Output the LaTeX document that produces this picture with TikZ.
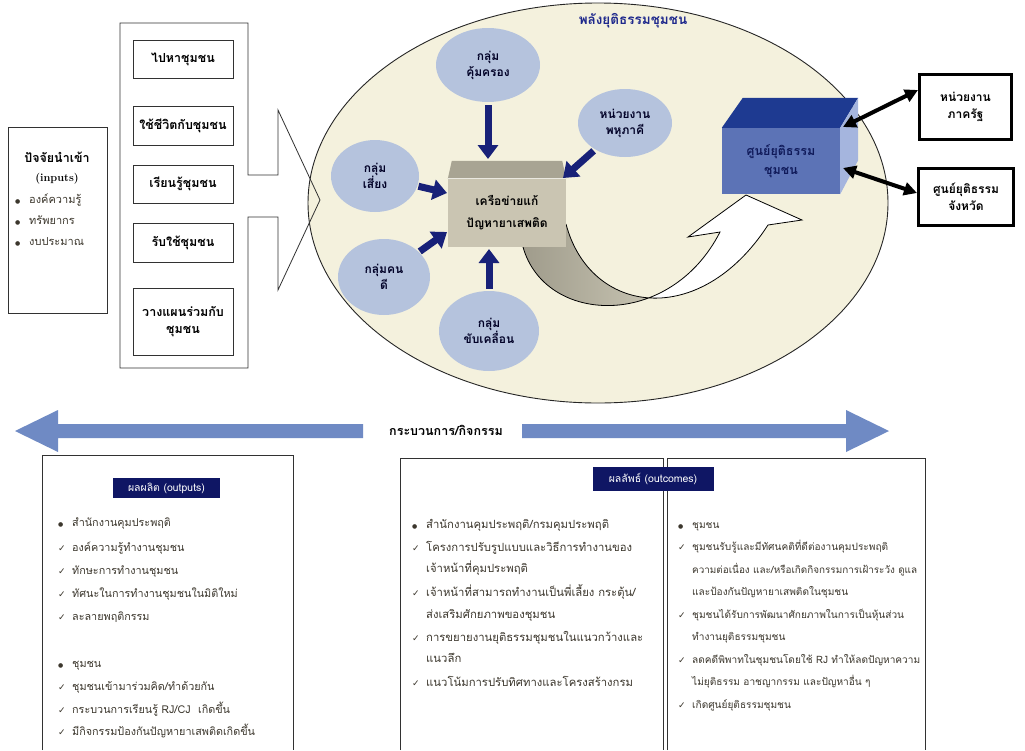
\documentclass[tikz,border=0pt]{standalone}
\usepackage{fontspec}
\newfontfamily\thai[Script=Thai]{Loma}
\newfontfamily\symf{DejaVu Sans}
\usetikzlibrary{arrows.meta,shapes.geometric}
\definecolor{cream}{RGB}{244,241,221}
\definecolor{grpblue}{RGB}{181,195,221}
\definecolor{navyarrow}{RGB}{24,33,120}
\definecolor{titleblue}{RGB}{30,40,140}
\definecolor{netfront}{RGB}{202,197,178}
\definecolor{nettop}{RGB}{168,164,147}
\definecolor{cjcfront}{RGB}{92,115,182}
\definecolor{cjctop}{RGB}{30,58,145}
\definecolor{cjcside}{RGB}{165,181,222}
\definecolor{cjctext}{RGB}{16,26,90}
\definecolor{steel}{RGB}{111,138,196}
\definecolor{hdrnavy}{RGB}{15,22,100}
\definecolor{bodytext}{RGB}{60,55,45}
\definecolor{linegray}{RGB}{50,50,50}
\newcommand\mybul{\makebox[14pt][l]{\symf\fontsize{6}{6}\selectfont ●}}
\newcommand\mychk{\makebox[14pt][l]{\symf\bfseries\fontsize{9}{9}\selectfont ✓}}
\newcommand\myind{\hspace*{14pt}}
\begin{document}
\begin{tikzpicture}[x=1pt,y=-1pt,
  outl/.style={draw=linegray, line width=0.8pt},
  actbox/.style={draw=linegray, line width=0.8pt, minimum width=100pt, inner sep=0, align=center, font=\thai\bfseries\fontsize{12.5}{17}\selectfont},
  grp/.style={ellipse, fill=grpblue, inner sep=0, align=center, font=\thai\bfseries\fontsize{12}{16}\selectfont, text=black!85!blue},
  nav/.style={draw=navyarrow, line width=7pt, -{Triangle[width=20pt,length=14pt]}},
  dbl/.style={draw=black, line width=4pt, {Triangle[width=13pt,length=13pt]}-{Triangle[width=13pt,length=13pt]}},
  rbox/.style={draw=black, line width=3pt, fill=white, inner sep=0, align=center, font=\thai\bfseries\fontsize{12}{17}\selectfont},
  hdr/.style={fill=hdrnavy, text=white, inner sep=0, font=\thai\fontsize{10.5}{12}\selectfont},
  itm/.style={anchor=base west, inner sep=0, font=\thai\fontsize{10.8}{12}\selectfont, text=bodytext},
  itmL/.style={itm, font=\thai\fontsize{11.3}{12}\selectfont},
  itmR/.style={itm, font=\thai\fontsize{10.1}{12}\selectfont},
  hd/.style={inner sep=0, font=\thai\bfseries\fontsize{12}{14}\selectfont}
]
\useasboundingbox (0,0) rectangle (1025,750);
\fill[white] (0,0) rectangle (1025,750);

% big field ellipse
\node[ellipse, draw=black!85, line width=0.9pt, fill=cream, minimum width=580pt, minimum height=400pt, inner sep=0] (field) at (598,203) {};
\node[hd, text=titleblue, font=\thai\bfseries\fontsize{13.5}{15}\selectfont] (fieldtitle) at (633,21) {พลังยุติธรรมชุมชน};

% inputs
\node[outl, minimum width=99pt, minimum height=186pt, inner sep=0] (inbox) at (57.5,220) {};
\node[hd, font=\thai\bfseries\fontsize{12.5}{14}\selectfont] (intitle) at (57,157) {ปัจจัยนำเข้า};
\node[inner sep=0, font=\bfseries\fontsize{11}{13}\selectfont] (inputs) at (57,179) {(inputs)};
\node[itm, font=\thai\fontsize{11}{13}\selectfont] (in1) at (15,203) {\mybul องค์ความรู้};
\node[itm, font=\thai\fontsize{11}{13}\selectfont] (in2) at (15,224) {\mybul ทรัพยากร};
\node[itm, font=\thai\fontsize{11}{13}\selectfont] (in3) at (15,245) {\mybul งบประมาณ};

% activities block arrow
\draw[outl] (120,23) -- (248,23) -- (248,175) -- (278,175) -- (278,110) -- (320,200) -- (278,290) -- (278,217) -- (248,217) -- (248,368) -- (120,368) -- cycle;
\node[actbox, minimum height=38pt] (a1) at (183,59) {ไปหาชุมชน};
\node[actbox, minimum height=39pt] (a2) at (183,125.5) {ใช้ชีวิตกับชุมชน};
\node[actbox, minimum height=38pt] (a3) at (183,184) {เรียนรู้ชุมชน};
\node[actbox, minimum height=39pt] (a4) at (183,242.5) {รับใช้ชุมชน};
\node[actbox, minimum height=67pt] (a5) at (183,321.5) {วางแผนร่วมกับ\\ชุมชน};

% twisted ribbon arrow
\begin{scope}
\clip (0,0) rectangle (648,750);
\shade[left color=nettop!95!black, right color=cream] (523,247) .. controls (545,325) and (670,330) .. (720,232) -- (688,237) -- (746,195) -- (802,220) -- (768,225) .. controls (700,330) and (590,315) .. (566,224) -- cycle;
\end{scope}
\begin{scope}
\clip (648,0) rectangle (1025,750);
\fill[white] (523,247) .. controls (545,325) and (670,330) .. (720,232) -- (688,237) -- (746,195) -- (802,220) -- (768,225) .. controls (700,330) and (590,315) .. (566,224) -- cycle;
\end{scope}
\draw[line width=0.8pt, line join=miter] (523,247) .. controls (545,325) and (670,330) .. (720,232) -- (688,237) -- (746,195) -- (802,220) -- (768,225) .. controls (700,330) and (590,315) .. (566,224);

% central network box
\node[fill=netfront, minimum width=118pt, minimum height=68pt, inner sep=0, align=center, font=\thai\bfseries\fontsize{12}{22}\selectfont] (net) at (507,213) {เครือข่ายแก้\\ปัญหายาเสพติด};
\fill[nettop] (net.north west) -- ([shift={(4,-18)}]net.north west) -- ([shift={(-4,-18)}]net.north east) -- (net.north east) -- cycle;
\draw[white!60!netfront, line width=1pt] (net.north west) -- (net.north east);
\coordinate (netT) at (488,159);
\coordinate (netL1) at (447,193);
\coordinate (netL2) at (447,232);
\coordinate (netB) at (489,249);
\coordinate (netTR) at (563,178);

% groups
\node[grp, minimum width=104pt, minimum height=74pt] (kum) at (488,65) {กลุ่ม\\คุ้มครอง};
\node[grp, minimum width=88pt, minimum height=72pt] (siang) at (375,176) {กลุ่ม\\เสี่ยง};
\node[grp, minimum width=92pt, minimum height=76pt] (khon) at (384,277) {กลุ่มคน\\ดี};
\node[grp, minimum width=100pt, minimum height=80pt] (khap) at (489,331) {กลุ่ม\\ขับเคลื่อน};
\node[grp, minimum width=94pt, minimum height=68pt] (phahu) at (625,123) {หน่วยงาน\\พหุภาคี};

\draw[nav, shorten <=3pt] (kum) -- (netT);
\draw[nav, shorten <=1pt] (siang) -- (netL1);
\draw[nav, shorten <=1pt] (khon) -- (netL2);
\draw[nav, shorten <=2pt] (khap) -- (netB);
\draw[nav, shorten <=2pt] (phahu) -- (netTR);

% community justice centre box
\node[fill=cjcfront, minimum width=118pt, minimum height=66pt, inner sep=0, align=center, text=cjctext, font=\thai\bfseries\fontsize{12.5}{19}\selectfont] (cjc) at (781,161) {ศูนย์ยุติธรรม\\ชุมชน};
\fill[cjctop] (cjc.north west) -- ([shift={(21,-30)}]cjc.north west) -- ([shift={(18,-30)}]cjc.north east) -- (cjc.north east) -- cycle;
\fill[cjcside] (cjc.north east) -- ([shift={(18,-30)}]cjc.north east) -- ([shift={(18,-34)}]cjc.south east) -- (cjc.south east) -- cycle;
\coordinate (cjcR1) at (843,127);
\coordinate (cjcR2) at (843,168);

% right boxes
\node[rbox, minimum width=92pt, minimum height=65pt] (gov) at (965.5,107) {หน่วยงาน\\ภาครัฐ};
\node[rbox, minimum width=95pt, minimum height=57pt] (prov) at (966,197) {ศูนย์ยุติธรรม\\จังหวัด};
\draw[dbl] (cjcR1) -- ([yshift=17pt]gov.west);
\draw[dbl] (cjcR2) -- ([yshift=4pt]prov.west);

% process arrow
\node[inner sep=0, font=\thai\bfseries\fontsize{12.5}{14}\selectfont] (proc) at (446,430) {กระบวนการ/กิจกรรม};
\fill[steel] (15,431) -- (58,410) -- (58,424) -- (363,424) -- (363,438) -- (58,438) -- (58,452) -- cycle;
\fill[steel] (522,424) -- (846,424) -- (846,410) -- (889,431) -- (846,452) -- (846,438) -- (522,438) -- cycle;

% outputs box
\draw[outl] (42,750) -- (42,455) -- (293,455) -- (293,750);
\node[hdr, minimum width=107pt, minimum height=20pt] (outhdr) at (166.5,488) {ผลผลิต (outputs)};
\node[itm] (o1) at (58,526) {\mybul สำนักงานคุมประพฤติ};
\node[itm] (o2) at (58,551) {\mychk องค์ความรู้ทำงานชุมชน};
\node[itm] (o3) at (58,574) {\mychk ทักษะการทำงานชุมชน};
\node[itm] (o4) at (58,597) {\mychk ทัศนะในการทำงานชุมชนในมิติใหม่};
\node[itm] (o5) at (58,620) {\mychk ละลายพฤติกรรม};
\node[itm] (o6) at (58,667) {\mybul ชุมชน};
\node[itm] (o7) at (58,690) {\mychk ชุมชนเข้ามาร่วมคิด/ทำด้วยกัน};
\node[itm] (o8) at (58,713) {\mychk กระบวนการเรียนรู้ RJ/CJ\ \ เกิดขึ้น};
\node[itm] (o9) at (58,735) {\mychk มีกิจกรรมป้องกันปัญหายาเสพติดเกิดขึ้น};

% outcomes boxes
\draw[outl] (400,750) -- (400,458) -- (663,458) -- (663,750);
\draw[outl] (667,750) -- (667,458) -- (925,458) -- (925,750);
\node[hdr, minimum width=121pt, minimum height=24pt] (ochdr) at (653,479) {ผลลัพธ์ (outcomes)};
\node[itmL] (l1) at (412,528) {\mybul สำนักงานคุมประพฤติ/กรมคุมประพฤติ};
\node[itmL] (l2) at (412,551) {\mychk โครงการปรับรูปแบบและวิธีการทำงานของ};
\node[itmL] (l3) at (412,572) {\myind เจ้าหน้าที่คุมประพฤติ};
\node[itmL] (l4) at (412,596) {\mychk เจ้าหน้าที่สามารถทำงานเป็นพี่เลี้ยง กระตุ้น/};
\node[itmL] (l5) at (412,618) {\myind ส่งเสริมศักยภาพของชุมชน};
\node[itmL] (l6) at (412,641) {\mychk การขยายงานยุติธรรมชุมชนในแนวกว้างและ};
\node[itmL] (l7) at (412,662) {\myind แนวลึก};
\node[itmL] (l8) at (412,686) {\mychk แนวโน้มการปรับทิศทางและโครงสร้างกรม};
\node[itmR] (r1) at (678,528) {\mybul ชุมชน};
\node[itmR] (r2) at (678,550) {\mychk ชุมชนรับรู้และมีทัศนคติที่ดีต่องานคุมประพฤติ};
\node[itmR, font=\thai\fontsize{9.9}{12}\selectfont] (r3) at (678,573) {\myind ความต่อเนื่อง และ/หรือเกิดกิจกรรมการเฝ้าระวัง ดูแล};
\node[itmR] (r4) at (678,595) {\myind และป้องกันปัญหายาเสพติดในชุมชน};
\node[itmR] (r5) at (678,618) {\mychk ชุมชนได้รับการพัฒนาศักยภาพในการเป็นหุ้นส่วน};
\node[itmR] (r6) at (678,640) {\myind ทำงานยุติธรรมชุมชน};
\node[itmR] (r7) at (678,663) {\mychk ลดคดีพิพาทในชุมชนโดยใช้ RJ ทำให้ลดปัญหาความ};
\node[itmR] (r8) at (678,685) {\myind ไม่ยุติธรรม อาชญากรรม และปัญหาอื่น ๆ};
\node[itmR] (r9) at (678,708) {\mychk เกิดศูนย์ยุติธรรมชุมชน};
\end{tikzpicture}
\end{document}
